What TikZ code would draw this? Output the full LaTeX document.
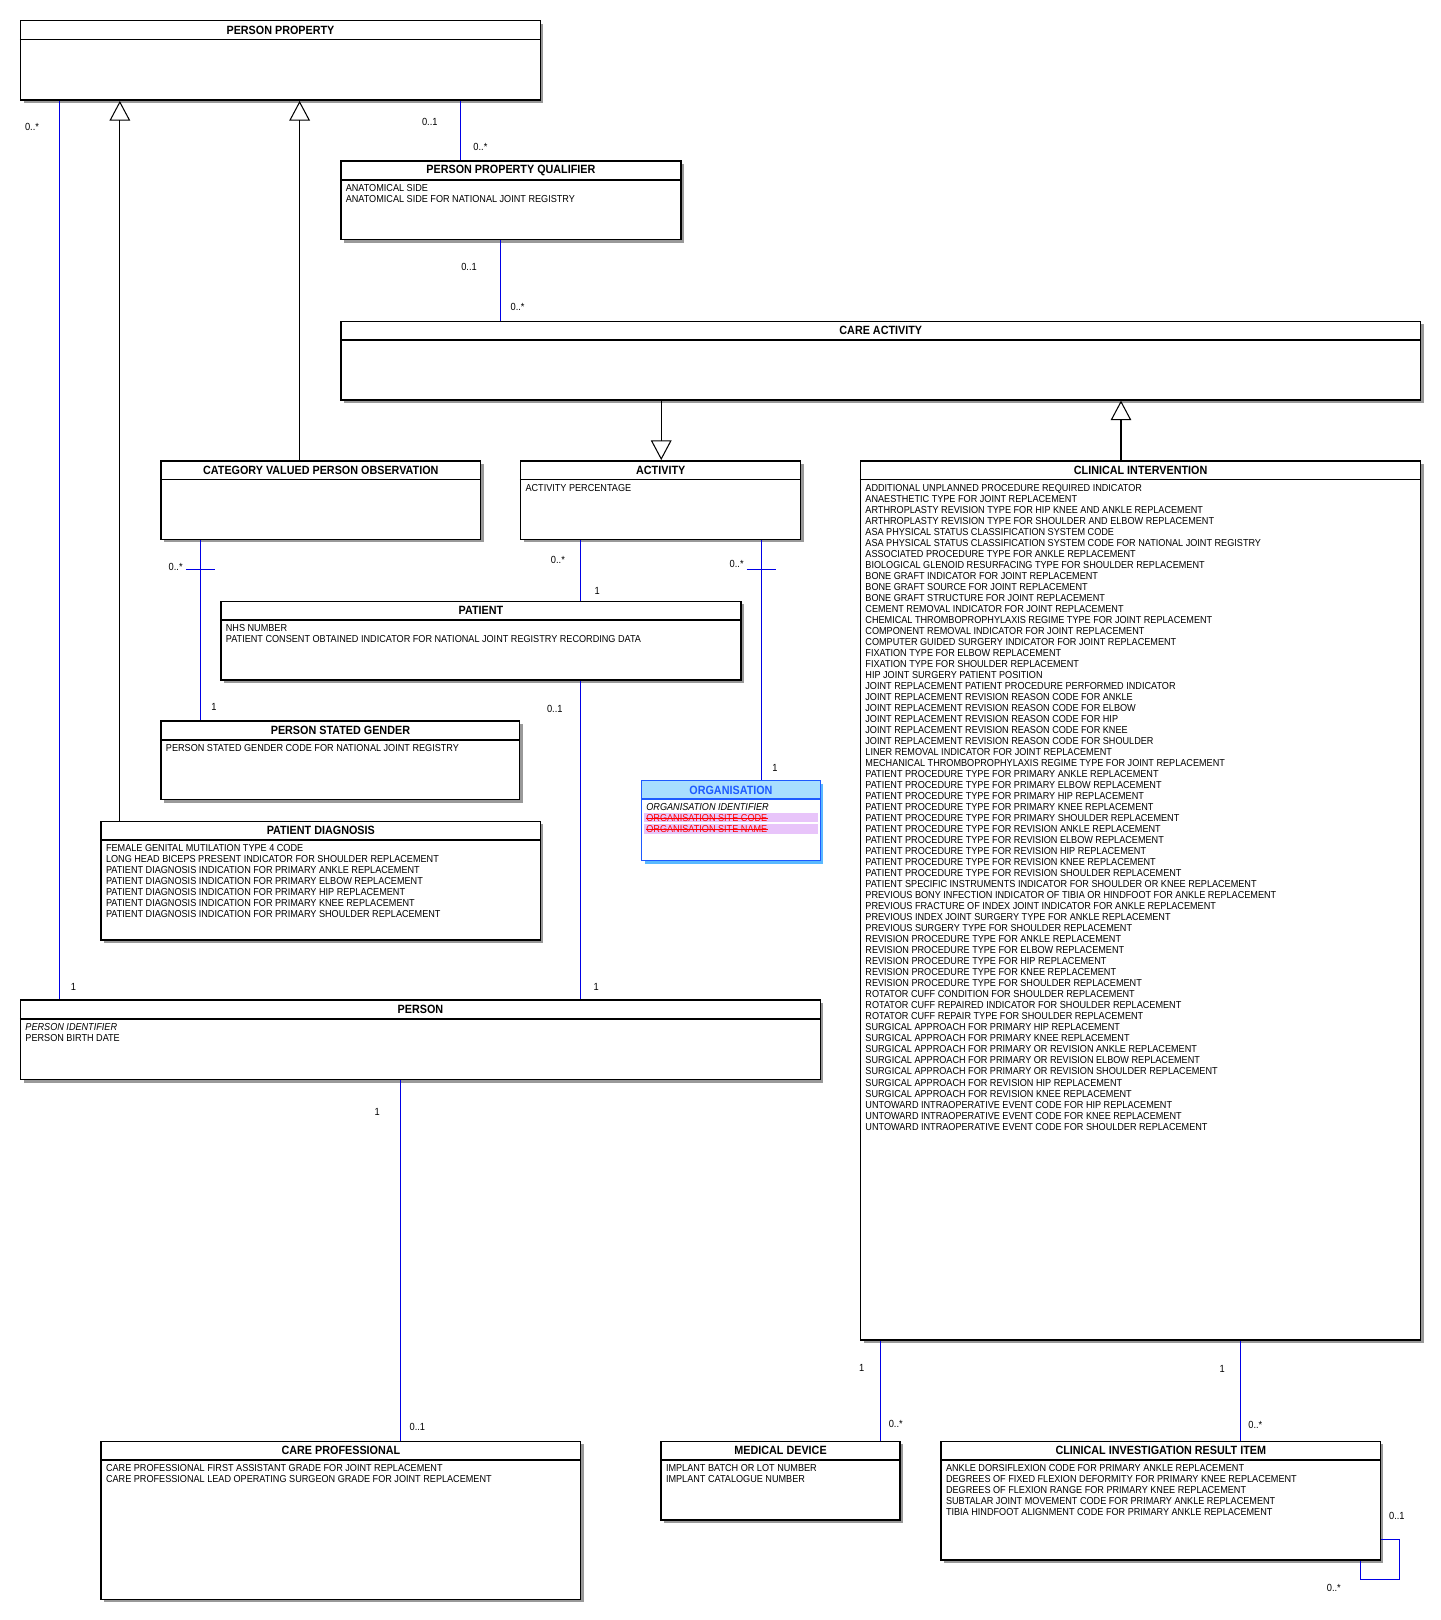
\documentclass[tikz,border=0pt]{standalone}
\usepackage{fontspec}
\setmainfont[FakeStretch=0.9]{Liberation Sans}
\usetikzlibrary{fit,shadows,arrows.meta}
\definecolor{assocblue}{RGB}{0,0,230}
\definecolor{orgblue}{RGB}{30,90,255}
\definecolor{orgfill}{RGB}{168,222,255}
\definecolor{orgshadow}{RGB}{90,185,255}
\definecolor{strikefill}{RGB}{232,196,250}
\begin{document}
\begin{tikzpicture}[x=0.5pt,y=-0.5pt,
    cls/.style={draw,line width=0.75pt,fill=white,inner sep=0pt,
      drop shadow={shadow xshift=1.5pt,shadow yshift=-1.5pt,fill=black!40,opacity=1}},
    clstitle/.style={anchor=north,inner sep=0pt,minimum height=9.5pt,font=\fontsize{5.8}{6}\selectfont\bfseries},
    attrs/.style={anchor=north west,inner sep=0pt,align=left,font=\fontsize{4.9}{5.33}\selectfont},
    mult/.style={inner sep=0pt,font=\fontsize{5}{6}\selectfont},
    assoc/.style={draw=assocblue,line width=0.5pt},
    gen/.style={draw,line width=0.5pt,-{Triangle[open,length=9.5pt,width=10pt]}}]
    \useasboundingbox (0,0) rectangle (1394,1568);

    % classes
    \node[cls,fit={(20,20) (523,97)}] (pp) {};
    \node[clstitle] (pp-t) at (pp.north) {PERSON PROPERTY};

    \node[cls,fit={(330,156) (659,232)}] (ppq) {};
    \node[clstitle] (ppq-t) at (ppq.north) {PERSON PROPERTY QUALIFIER};
    \node[attrs] (ppq-a) at ([shift={(5,23)}]ppq.north west) {ANATOMICAL SIDE\\ANATOMICAL SIDE FOR NATIONAL JOINT REGISTRY};

    \node[cls,fit={(330,311) (1375,387)}] (ca) {};
    \node[clstitle] (ca-t) at (ca.north) {CARE ACTIVITY};

    \node[cls,fit={(156,446) (465,522)}] (cvpo) {};
    \node[clstitle] (cvpo-t) at (cvpo.north) {CATEGORY VALUED PERSON OBSERVATION};

    \node[cls,fit={(504,446) (775,522)}] (act) {};
    \node[clstitle] (act-t) at (act.north) {ACTIVITY};
    \node[attrs] (act-a) at ([shift={(5,23)}]act.north west) {ACTIVITY PERCENTAGE};

    \node[cls,fit={(833,446) (1375,1297)}] (ci) {};
    \node[clstitle] (ci-t) at (ci.north) {CLINICAL INTERVENTION};
    \node[attrs] (ci-a) at ([shift={(5,23)}]ci.north west) {ADDITIONAL UNPLANNED PROCEDURE REQUIRED INDICATOR\\
      ANAESTHETIC TYPE FOR JOINT REPLACEMENT\\
      ARTHROPLASTY REVISION TYPE FOR HIP KNEE AND ANKLE REPLACEMENT\\
      ARTHROPLASTY REVISION TYPE FOR SHOULDER AND ELBOW REPLACEMENT\\
      ASA PHYSICAL STATUS CLASSIFICATION SYSTEM CODE\\
      ASA PHYSICAL STATUS CLASSIFICATION SYSTEM CODE FOR NATIONAL JOINT REGISTRY\\
      ASSOCIATED PROCEDURE TYPE FOR ANKLE REPLACEMENT\\
      BIOLOGICAL GLENOID RESURFACING TYPE FOR SHOULDER REPLACEMENT\\
      BONE GRAFT INDICATOR FOR JOINT REPLACEMENT\\
      BONE GRAFT SOURCE FOR JOINT REPLACEMENT\\
      BONE GRAFT STRUCTURE FOR JOINT REPLACEMENT\\
      CEMENT REMOVAL INDICATOR FOR JOINT REPLACEMENT\\
      CHEMICAL THROMBOPROPHYLAXIS REGIME TYPE FOR JOINT REPLACEMENT\\
      COMPONENT REMOVAL INDICATOR FOR JOINT REPLACEMENT\\
      COMPUTER GUIDED SURGERY INDICATOR FOR JOINT REPLACEMENT\\
      FIXATION TYPE FOR ELBOW REPLACEMENT\\
      FIXATION TYPE FOR SHOULDER REPLACEMENT\\
      HIP JOINT SURGERY PATIENT POSITION\\
      JOINT REPLACEMENT PATIENT PROCEDURE PERFORMED INDICATOR\\
      JOINT REPLACEMENT REVISION REASON CODE FOR ANKLE\\
      JOINT REPLACEMENT REVISION REASON CODE FOR ELBOW\\
      JOINT REPLACEMENT REVISION REASON CODE FOR HIP\\
      JOINT REPLACEMENT REVISION REASON CODE FOR KNEE\\
      JOINT REPLACEMENT REVISION REASON CODE FOR SHOULDER\\
      LINER REMOVAL INDICATOR FOR JOINT REPLACEMENT\\
      MECHANICAL THROMBOPROPHYLAXIS REGIME TYPE FOR JOINT REPLACEMENT\\
      PATIENT PROCEDURE TYPE FOR PRIMARY ANKLE REPLACEMENT\\
      PATIENT PROCEDURE TYPE FOR PRIMARY ELBOW REPLACEMENT\\
      PATIENT PROCEDURE TYPE FOR PRIMARY HIP REPLACEMENT\\
      PATIENT PROCEDURE TYPE FOR PRIMARY KNEE REPLACEMENT\\
      PATIENT PROCEDURE TYPE FOR PRIMARY SHOULDER REPLACEMENT\\
      PATIENT PROCEDURE TYPE FOR REVISION ANKLE REPLACEMENT\\
      PATIENT PROCEDURE TYPE FOR REVISION ELBOW REPLACEMENT\\
      PATIENT PROCEDURE TYPE FOR REVISION HIP REPLACEMENT\\
      PATIENT PROCEDURE TYPE FOR REVISION KNEE REPLACEMENT\\
      PATIENT PROCEDURE TYPE FOR REVISION SHOULDER REPLACEMENT\\
      PATIENT SPECIFIC INSTRUMENTS INDICATOR FOR SHOULDER OR KNEE REPLACEMENT\\
      PREVIOUS BONY INFECTION INDICATOR OF TIBIA OR HINDFOOT FOR ANKLE REPLACEMENT\\
      PREVIOUS FRACTURE OF INDEX JOINT INDICATOR FOR ANKLE REPLACEMENT\\
      PREVIOUS INDEX JOINT SURGERY TYPE FOR ANKLE REPLACEMENT\\
      PREVIOUS SURGERY TYPE FOR SHOULDER REPLACEMENT\\
      REVISION PROCEDURE TYPE FOR ANKLE REPLACEMENT\\
      REVISION PROCEDURE TYPE FOR ELBOW REPLACEMENT\\
      REVISION PROCEDURE TYPE FOR HIP REPLACEMENT\\
      REVISION PROCEDURE TYPE FOR KNEE REPLACEMENT\\
      REVISION PROCEDURE TYPE FOR SHOULDER REPLACEMENT\\
      ROTATOR CUFF CONDITION FOR SHOULDER REPLACEMENT\\
      ROTATOR CUFF REPAIRED INDICATOR FOR SHOULDER REPLACEMENT\\
      ROTATOR CUFF REPAIR TYPE FOR SHOULDER REPLACEMENT\\
      SURGICAL APPROACH FOR PRIMARY HIP REPLACEMENT\\
      SURGICAL APPROACH FOR PRIMARY KNEE REPLACEMENT\\
      SURGICAL APPROACH FOR PRIMARY OR REVISION ANKLE REPLACEMENT\\
      SURGICAL APPROACH FOR PRIMARY OR REVISION ELBOW REPLACEMENT\\
      SURGICAL APPROACH FOR PRIMARY OR REVISION SHOULDER REPLACEMENT\\
      SURGICAL APPROACH FOR REVISION HIP REPLACEMENT\\
      SURGICAL APPROACH FOR REVISION KNEE REPLACEMENT\\
      UNTOWARD INTRAOPERATIVE EVENT CODE FOR HIP REPLACEMENT\\
      UNTOWARD INTRAOPERATIVE EVENT CODE FOR KNEE REPLACEMENT\\
      UNTOWARD INTRAOPERATIVE EVENT CODE FOR SHOULDER REPLACEMENT};

    \node[cls,fit={(214,582) (717,658)}] (pat) {};
    \node[clstitle] (pat-t) at (pat.north) {PATIENT};
    \node[attrs] (pat-a) at ([shift={(5,23)}]pat.north west) {NHS NUMBER\\PATIENT CONSENT OBTAINED INDICATOR FOR NATIONAL JOINT REGISTRY RECORDING DATA};

    \node[cls,fit={(156,698) (503,774)}] (psg) {};
    \node[clstitle] (psg-t) at (psg.north) {PERSON STATED GENDER};
    \node[attrs] (psg-a) at ([shift={(5,23)}]psg.north west) {PERSON STATED GENDER CODE FOR NATIONAL JOINT REGISTRY};

    \node[cls,draw=orgblue,fit={(621,756) (794,833)},
      drop shadow={shadow xshift=1.5pt,shadow yshift=-1.5pt,fill=orgshadow,opacity=1}] (org) {};
    \fill[orgfill] ([shift={(0.4pt,-0.4pt)}]org.north west) rectangle ([shift={(-0.4pt,-9pt)}]org.north east);
    \fill[strikefill] (623,787) rectangle (792,796); % site code
    \fill[strikefill] (623,798) rectangle (792,807); % site name
    \node[clstitle,minimum height=9pt,text=orgblue] (org-t) at (org.north) {ORGANISATION};
    \node[attrs] (org-a) at ([shift={(5,22)}]org.north west) {\itshape ORGANISATION IDENTIFIER};
    \node[attrs,text=red] (org-b) at ([shift={(5,32.7)}]org.north west) {ORGANISATION SITE CODE};
    \node[attrs,text=red] (org-c) at ([shift={(5,43.4)}]org.north west) {ORGANISATION SITE NAME};
    \draw[red,line width=0.4pt] (org-b.west) -- (org-b.east); % struck out
    \draw[red,line width=0.4pt] (org-c.west) -- (org-c.east);

    \node[cls,fit={(98,795) (523,910)}] (pd) {};
    \node[clstitle] (pd-t) at (pd.north) {PATIENT DIAGNOSIS};
    \node[attrs] (pd-a) at ([shift={(5,23)}]pd.north west) {FEMALE GENITAL MUTILATION TYPE 4 CODE\\
      LONG HEAD BICEPS PRESENT INDICATOR FOR SHOULDER REPLACEMENT\\
      PATIENT DIAGNOSIS INDICATION FOR PRIMARY ANKLE REPLACEMENT\\
      PATIENT DIAGNOSIS INDICATION FOR PRIMARY ELBOW REPLACEMENT\\
      PATIENT DIAGNOSIS INDICATION FOR PRIMARY HIP REPLACEMENT\\
      PATIENT DIAGNOSIS INDICATION FOR PRIMARY KNEE REPLACEMENT\\
      PATIENT DIAGNOSIS INDICATION FOR PRIMARY SHOULDER REPLACEMENT};

    \node[cls,fit={(20,968) (794,1045)}] (per) {};
    \node[clstitle] (per-t) at (per.north) {PERSON};
    \node[attrs] (per-a) at ([shift={(5,23)}]per.north west) {\textit{PERSON IDENTIFIER}\\PERSON BIRTH DATE};

    \node[cls,fit={(98,1395) (562,1548)}] (cp) {};
    \node[clstitle] (cp-t) at (cp.north) {CARE PROFESSIONAL};
    \node[attrs] (cp-a) at ([shift={(5,23)}]cp.north west) {CARE PROFESSIONAL FIRST ASSISTANT GRADE FOR JOINT REPLACEMENT\\
      CARE PROFESSIONAL LEAD OPERATING SURGEON GRADE FOR JOINT REPLACEMENT};

    \node[cls,fit={(640,1395) (871,1471)}] (md) {};
    \node[clstitle] (md-t) at (md.north) {MEDICAL DEVICE};
    \node[attrs] (md-a) at ([shift={(5,23)}]md.north west) {IMPLANT BATCH OR LOT NUMBER\\IMPLANT CATALOGUE NUMBER};

    \node[cls,fit={(911,1395) (1336,1510)}] (ciri) {};
    \node[clstitle] (ciri-t) at (ciri.north) {CLINICAL INVESTIGATION RESULT ITEM};
    \node[attrs] (ciri-a) at ([shift={(5,23)}]ciri.north west) {ANKLE DORSIFLEXION CODE FOR PRIMARY ANKLE REPLACEMENT\\
      DEGREES OF FIXED FLEXION DEFORMITY FOR PRIMARY KNEE REPLACEMENT\\
      DEGREES OF FLEXION RANGE FOR PRIMARY KNEE REPLACEMENT\\
      SUBTALAR JOINT MOVEMENT CODE FOR PRIMARY ANKLE REPLACEMENT\\
      TIBIA HINDFOOT ALIGNMENT CODE FOR PRIMARY ANKLE REPLACEMENT};

    % title dividers
    \foreach \c in {pp,ppq,ca,cvpo,act,ci,pat,psg,pd,per,cp,md,ciri}
      \draw[line width=0.75pt] ([yshift=-9.5pt]\c.north west) -- ([yshift=-9.5pt]\c.north east);
    \draw[orgblue,line width=0.75pt] ([yshift=-9pt]org.north west) -- ([yshift=-9pt]org.north east);

    % generalisations
    \draw[gen] (pd.north -| 116,0) -- (pp.south -| 116,0);
    \draw[gen] (cvpo.north -| 290,0) -- (pp.south -| 290,0);
    \draw[gen] (ca.south -| 640,0) -- (act.north -| 640,0);
    \draw[gen] (ci.north -| 1085,0) -- (ca.south -| 1085,0);

    % associations
    \draw[assoc] (pp.south -| 58,0) -- (per.north -| 58,0);
    \node[mult] (m1) at (31,123) {0..*};
    \node[mult] (m2) at (71,955) {1};
    \draw[assoc] (pp.south -| 446,0) -- (ppq.north -| 446,0);
    \node[mult] (m3) at (416,118) {0..1};
    \node[mult] (m4) at (465,142) {0..*};
    \draw[assoc] (ppq.south -| 484,0) -- (ca.north -| 484,0);
    \node[mult] (m5) at (454,258) {0..1};
    \node[mult] (m6) at (501,297) {0..*};
    \draw[assoc] (cvpo.south -| 194,0) -- (psg.north -| 194,0);
    \coordinate (tk1) at (194,551);
    \draw[assoc] ([xshift=-7pt]tk1) -- ([xshift=7pt]tk1);
    \node[mult] (m7) at (170,549) {0..*};
    \node[mult] (m8) at (207,684) {1};
    \draw[assoc] (act.south -| 562,0) -- (pat.north -| 562,0);
    \node[mult] (m9) at (540,542) {0..*};
    \node[mult] (m10) at (578,572) {1};
    \draw[assoc] (act.south -| 737,0) -- (org.north -| 737,0);
    \coordinate (tk2) at (737,551);
    \draw[assoc] ([xshift=-7pt]tk2) -- ([xshift=7pt]tk2);
    \node[mult] (m11) at (713,546) {0..*};
    \node[mult] (m12) at (750,743) {1};
    \draw[assoc] (pat.south -| 562,0) -- (per.north -| 562,0);
    \node[mult] (m13) at (537,686) {0..1};
    \node[mult] (m14) at (577,955) {1};
    \draw[assoc] (per.south -| 388,0) -- (cp.north -| 388,0);
    \node[mult] (m15) at (365,1076) {1};
    \node[mult] (m16) at (404,1381) {0..1};
    \draw[assoc] (ci.south -| 852,0) -- (md.north -| 852,0);
    \node[mult] (m17) at (834,1324) {1};
    \node[mult] (m18) at (867,1378) {0..*};
    \draw[assoc] (ci.south -| 1201,0) -- (ciri.north -| 1201,0);
    \node[mult] (m19) at (1183,1325) {1};
    \node[mult] (m20) at (1215,1379) {0..*};
    \draw[assoc] (ciri.east |- 0,1490) -- (1355,1490) -- (1355,1529) -- (1317,1529) -- (ciri.south -| 1317,0); % self
    \node[mult] (m21) at (1352,1467) {0..1};
    \node[mult] (m22) at (1291,1537) {0..*};
\end{tikzpicture}
\end{document}
